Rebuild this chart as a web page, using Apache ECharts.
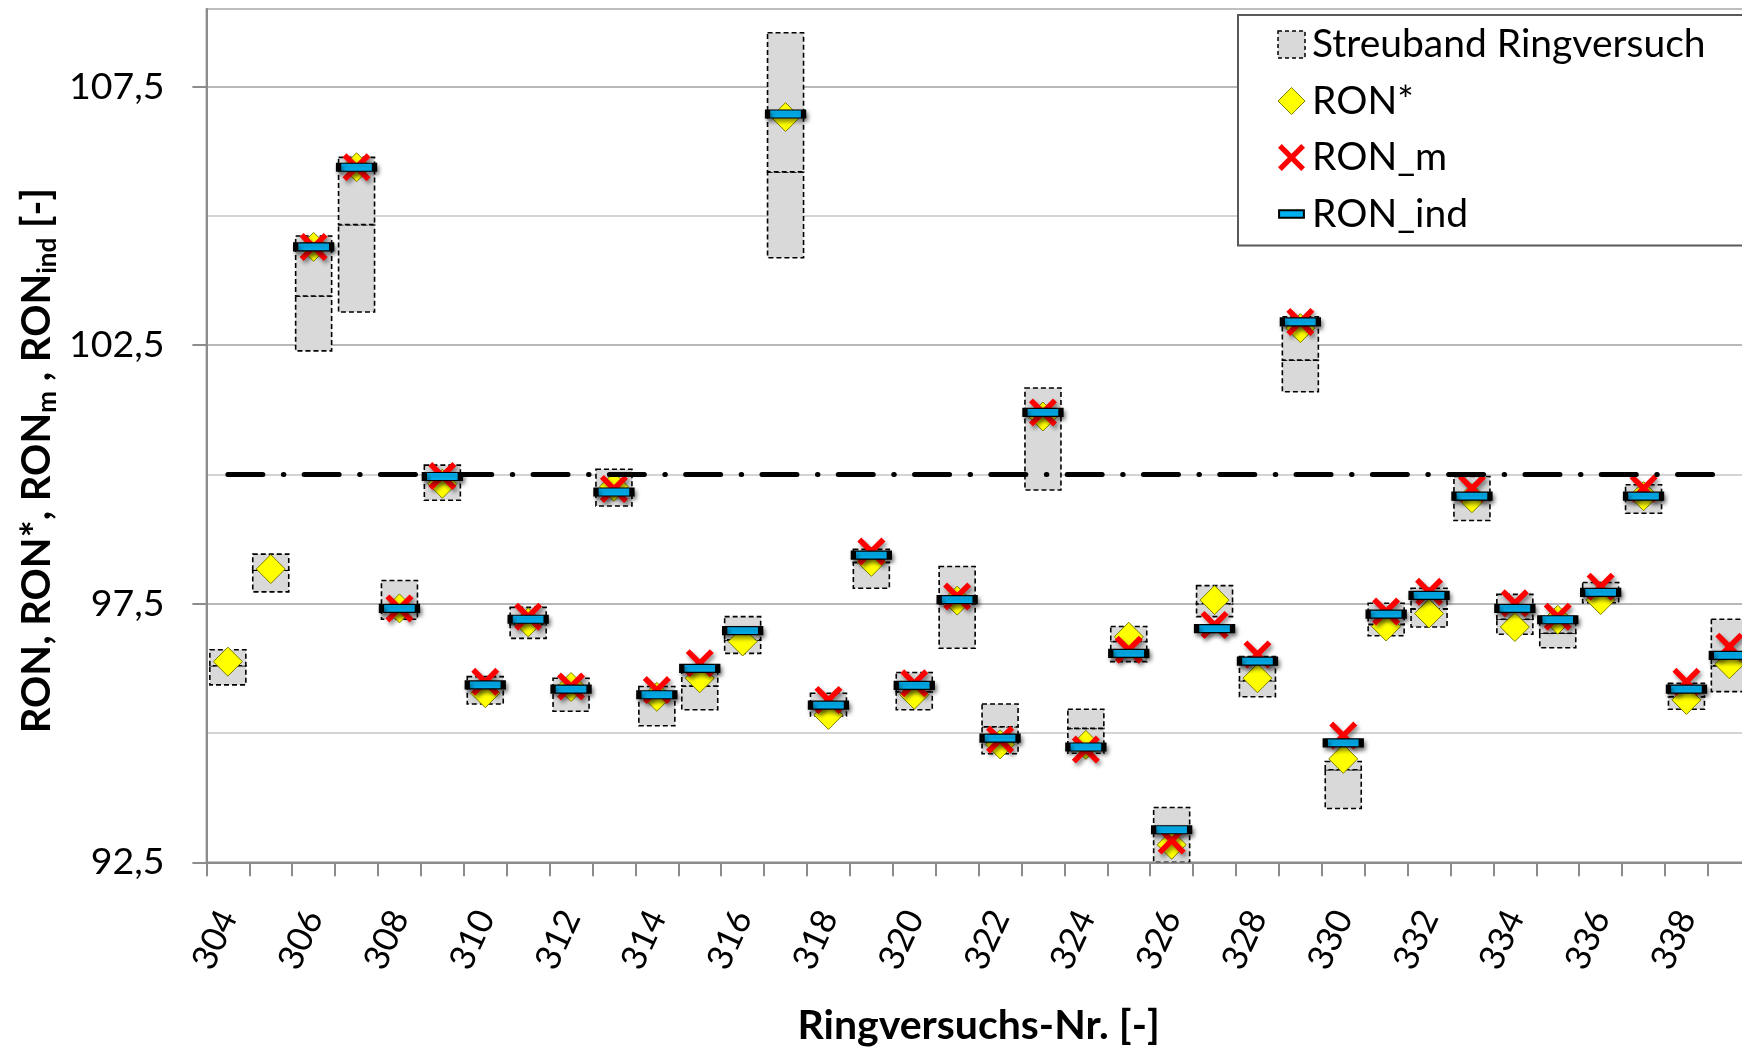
<!DOCTYPE html>
<html><head><meta charset="utf-8">
<script src="https://cdn.jsdelivr.net/npm/echarts@6/dist/echarts.min.js"></script>
<style>html,body{margin:0;padding:0;background:#fff}#chart{width:1742px;height:1047px}</style>
</head><body><div id="chart"></div>
<script>
const categories = ['304','305','306','307','308','309','310','311','312','313','314','315','316','317','318','319','320','321','322','323','324','325','326','327','328','329','330','331','332','333','334','335','336','337','338','339'];
const streuLow  = [95.93, 97.73, 102.39, 103.14, 97.20, 99.50, 95.56, 96.83, 95.42, 99.39, 95.14, 95.45, 96.54, 104.19, 95.33, 97.80, 95.45, 96.64, 94.60, 99.70, 94.61, 96.38, 92.50, 97.25, 95.70, 101.60, 93.54, 96.88, 97.05, 99.11, 96.91, 96.65, 97.52, 99.25, 95.46, 95.80];
const streuMid  = [96.30, 98.15, 103.45, 104.83, 97.41, 99.90, 95.90, 97.10, 95.80, 99.70, 95.70, 95.91, 96.80, 105.85, 95.50, 98.30, 95.80, 97.50, 95.12, 101.20, 95.09, 96.77, 93.10, 97.50, 96.01, 102.21, 94.29, 97.10, 97.40, 99.50, 97.20, 96.93, 97.70, 99.50, 95.70, 96.30];
const streuHigh = [96.61, 98.46, 104.61, 106.13, 97.95, 100.18, 96.09, 97.43, 96.06, 100.10, 95.90, 96.30, 97.25, 108.54, 95.77, 98.55, 96.17, 98.22, 95.56, 101.67, 95.46, 97.06, 93.56, 97.85, 96.48, 103.05, 94.45, 97.51, 97.80, 99.96, 97.68, 97.25, 97.91, 99.80, 95.96, 97.20];
const ronStar   = [96.38, 98.17, 104.40, 105.94, 97.41, 99.82, 95.77, 97.14, 95.89, 99.76, 95.70, 96.06, 96.77, 106.91, 95.35, 98.31, 95.74, 97.56, 94.78, 101.12, 94.77, 96.86, 92.84, 97.57, 96.06, 102.83, 94.50, 97.06, 97.31, 99.54, 97.05, 97.19, 97.57, 99.58, 95.64, 96.33];
const ronM      = [null, null, 104.40, 105.94, 97.41, 99.97, 95.99, 97.25, 95.90, 99.72, 95.83, 96.35, null, null, 95.64, 98.51, 95.96, 97.64, 94.87, 101.20, 94.68, 96.61, 92.92, 97.09, 96.52, 102.95, 94.95, 97.35, 97.73, 99.73, 97.51, 97.25, 97.83, 99.73, 95.99, 96.67];
const ronInd    = [null, null, 104.40, 105.94, 97.41, 99.96, 95.93, 97.20, 95.85, 99.66, 95.74, 96.25, 96.98, 106.97, 95.54, 98.44, 95.92, 97.58, 94.90, 101.20, 94.73, 96.54, 93.13, 97.02, 96.39, 102.95, 94.81, 97.30, 97.66, 99.58, 97.41, 97.19, 97.72, 99.58, 95.85, 96.50];
const refValue = 100;
const yTickLabels = [92.5, 97.5, 102.5, 107.5];
const seriesNames = ['Streuband Ringversuch', 'RON*', 'RON_m', 'RON_ind'];

const FONT = 'Lato';
const AXIS_GRAY = '#8c8c8c';
const X_PATH = 'path://M0,14L14,0L50,36L86,0L100,14L64,50L100,86L86,100L50,64L14,100L0,86L36,50Z';
const BAR_ICON = 'path://M0,0M100,100M4,36L96,36L96,64L4,64Z';
const toData = arr => arr.map(v => (v == null ? '-' : v));
const fmt = v => String(v.toFixed(1)).replace('.', ',');

const chart = echarts.init(document.getElementById('chart'), null, {renderer: 'canvas'});
const shadow = {shadowBlur: 4, shadowColor: 'rgba(0,0,0,0.45)', shadowOffsetX: 2, shadowOffsetY: 3};

const option = {
  animation: false,
  backgroundColor: '#fff',
  grid: {left: 206.4, top: 9, right: -8.8, bottom: 184.7, show: true, borderColor: AXIS_GRAY, borderWidth: 1.5, outerBoundsMode: 'none', containLabel: false},
  legend: {
    orient: 'vertical', left: 1238, top: 15,
    backgroundColor: '#fff', borderColor: '#595959', borderWidth: 2,
    padding: [10, 600, 12, 39], itemGap: 17.5, itemWidth: 27, itemHeight: 27,
    selectedMode: false,
    textStyle: {fontFamily: FONT, fontSize: 39, color: '#000', padding: [0, 0, 0, 2]},
    data: [
      {name: seriesNames[0], icon: 'rect', itemStyle: {color: '#d9d9d9', borderColor: '#000', borderWidth: 1.5, borderType: [4, 3]}},
      {name: seriesNames[1], icon: 'diamond', itemStyle: {color: '#ffff00', borderColor: '#7f7f00', borderWidth: 1}},
      {name: seriesNames[2], icon: X_PATH, itemStyle: {color: '#ff0000', borderWidth: 0}},
      {name: seriesNames[3], icon: BAR_ICON, itemStyle: {color: '#00b0f0', borderColor: '#000', borderWidth: 2}}
    ]
  },
  xAxis: {
    type: 'category', data: categories, boundaryGap: true,
    axisLine: {lineStyle: {color: AXIS_GRAY, width: 2}},
    axisTick: {show: true, interval: 0, length: 14, alignWithLabel: false, lineStyle: {color: AXIS_GRAY, width: 2}},
    axisLabel: {interval: 1, rotate: 65, fontFamily: FONT, fontSize: 35, color: '#000', margin: 50, padding: [44, 0, 0, 0]},
    splitLine: {show: false},
    name: 'Ringversuchs-Nr. [-]', nameLocation: 'middle', nameGap: 143,
    nameTextStyle: {fontFamily: FONT, fontWeight: 'bold', fontSize: 41, color: '#000'}
  },
  yAxis: [
    {
      type: 'value', min: 92.5, max: 109, interval: 2.5,
      axisLine: {show: true, lineStyle: {color: AXIS_GRAY, width: 2}},
      axisTick: {show: false}, axisLabel: {show: false},
      splitLine: {show: true, lineStyle: {color: ['#a0a0a0', '#c6c6c6'], width: 1.5}},
      name: '{a|RON, RON*, RON}{s|m}{a| , RON}{s|ind}{a| [-]}',
      nameLocation: 'middle', nameRotate: 90, nameGap: 146,
      nameTextStyle: {
        fontFamily: FONT, fontWeight: 'bold', fontSize: 40, color: '#000', padding: [0, 50, 0, 0],
        rich: {
          a: {fontFamily: FONT, fontWeight: 'bold', fontSize: 40, color: '#000', lineHeight: 46},
          s: {fontFamily: FONT, fontWeight: 'bold', fontSize: 26, color: '#000', lineHeight: 15, verticalAlign: 'bottom'}
        }
      }
    },
    {
      type: 'value', min: 92.5, max: 109, interval: 5, position: 'left',
      axisLine: {show: false},
      axisTick: {show: true, length: 14, customValues: yTickLabels, lineStyle: {color: AXIS_GRAY, width: 2}},
      axisLabel: {show: true, customValues: yTickLabels, margin: 42, fontFamily: FONT, fontSize: 37.5, color: '#000',
        formatter: v => (yTickLabels.indexOf(v) >= 0 ? fmt(v) : '')},
      splitLine: {show: false}
    }
  ],
  series: [
    {
      name: seriesNames[0], type: 'custom', z: 1, clip: true,
      itemStyle: {color: '#d9d9d9', borderColor: '#000'},
      encode: {x: 0, y: [1, 2, 3]},
      data: categories.map((c, i) => [i, streuLow[i], streuMid[i], streuHigh[i]]),
      renderItem: function (params, api) {
        const x = api.value(0);
        const pLow = api.coord([x, api.value(1)]);
        const pMid = api.coord([x, api.value(2)]);
        const pHigh = api.coord([x, api.value(3)]);
        const w = 36;
        const st = {fill: '#d9d9d9', stroke: '#000', lineWidth: 1.6, lineDash: [5, 3]};
        return {type: 'group', children: [
          {type: 'rect', shape: {x: pLow[0] - w / 2, y: pMid[1], width: w, height: pLow[1] - pMid[1]}, style: st},
          {type: 'rect', shape: {x: pMid[0] - w / 2, y: pHigh[1], width: w, height: pMid[1] - pHigh[1]}, style: st}
        ]};
      }
    },
    {
      name: 'ref', type: 'line', z: 2, data: [], silent: true,
      markLine: {
        silent: true, symbol: 'none', label: {show: false}, animation: false,
        lineStyle: {color: '#000', width: 5, type: [35, 20.5, 0.5, 20.3], cap: 'round'},
        emphasis: {disabled: true},
        data: [[{coord: [categories[0], refValue]}, {coord: [categories[categories.length - 1], refValue]}]]
      }
    },
    {
      name: seriesNames[1], type: 'scatter', z: 3, symbol: 'diamond', symbolSize: 29,
      itemStyle: {color: '#ffff00', borderColor: '#7f7f00', borderWidth: 1, opacity: 1},
      emphasis: {disabled: true},
      data: toData(ronStar)
    },
    {
      name: seriesNames[2], type: 'scatter', z: 4, symbol: X_PATH, symbolSize: 28,
      itemStyle: Object.assign({color: '#ff0000', opacity: 1}, shadow),
      emphasis: {disabled: true},
      data: toData(ronM)
    },
    {
      name: seriesNames[3], type: 'scatter', z: 5, symbol: 'rect', symbolSize: [36, 8],
      itemStyle: Object.assign({color: '#00b0f0', borderColor: '#000', borderWidth: 2.5, opacity: 1}, shadow),
      emphasis: {disabled: true},
      data: toData(ronInd)
    }
  ]
};
chart.setOption(option);
</script>
</body></html>
